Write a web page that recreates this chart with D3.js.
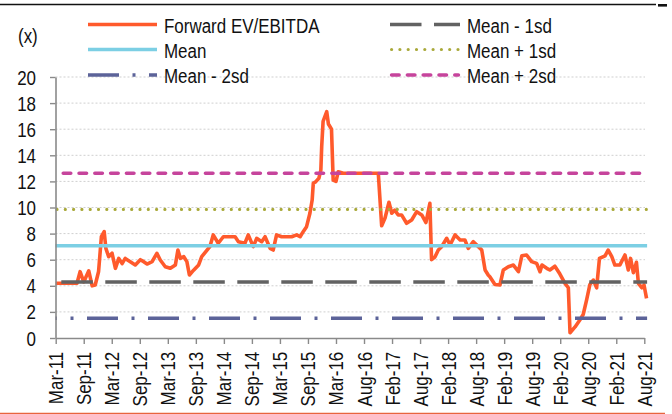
<!DOCTYPE html>
<html>
<head>
<meta charset="utf-8">
<script src="https://cdn.jsdelivr.net/npm/d3@7/dist/d3.min.js"></script>
<style>
  html, body { margin: 0; padding: 0; background: #fff; }
  svg { display: block; }
  text { font-family: "Liberation Sans", Arial, sans-serif; font-size: 19.5px; fill: #111; }
</style>
</head>
<body>
<svg id="chart" width="672" height="414"></svg>
<script>
// Category labels along the time axis (evenly spaced, one every ~6 months)
const tickLabels = ["Mar-11","Sep-11","Mar-12","Sep-12","Mar-13","Sep-13","Mar-14","Sep-14",
  "Mar-15","Sep-15","Mar-16","Aug-16","Feb-17","Aug-17","Feb-18","Aug-18","Feb-19","Aug-19",
  "Feb-20","Aug-20","Feb-21","Aug-21"];

// Forward EV/EBITDA: position on the label axis (0 = first label) and multiple (x)
const evPos = [0, 0.76, 0.87, 1.00, 1.18, 1.30, 1.41, 1.53, 1.63, 1.73, 1.79, 1.89, 2.01, 2.13,
  2.25, 2.37, 2.48, 2.66, 2.84, 3.02, 3.14, 3.26, 3.44, 3.61, 3.73, 3.91, 4.09, 4.27, 4.36, 4.45,
  4.57, 4.68, 4.77, 4.92, 5.10, 5.21, 5.50, 5.62, 5.80, 5.98, 6.40, 6.52, 6.75, 6.87, 7.05, 7.17,
  7.35, 7.47, 7.65, 7.76, 7.88, 8.06, 8.42, 8.60, 8.72, 8.83, 8.95, 9.07, 9.15, 9.19, 9.28, 9.39,
  9.46, 9.49, 9.54, 9.67, 9.73, 9.84, 9.90, 10.00, 10.08, 10.26, 11.51, 11.63, 11.75, 11.89, 11.99,
  12.10, 12.22, 12.34, 12.52, 12.70, 12.88, 13.06, 13.21, 13.35, 13.41, 13.53, 13.65, 13.77, 13.95,
  14.07, 14.25, 14.43, 14.60, 14.72, 14.90, 15.08, 15.20, 15.32, 15.43, 15.49, 15.67, 15.85, 15.97,
  16.15, 16.33, 16.51, 16.63, 16.80, 16.98, 17.16, 17.28, 17.35, 17.52, 17.63, 17.81, 17.99, 18.17,
  18.29, 18.35, 18.53, 18.70, 18.82, 18.94, 19.06, 19.18, 19.30, 19.40, 19.60, 19.71, 19.84, 19.95,
  20.13, 20.31, 20.43, 20.51, 20.61, 20.72, 20.79, 20.91, 20.99, 21.08];
const evValues = [4.19, 4.20, 5.08, 4.30, 5.15, 4.00, 4.06, 5.10, 7.76, 8.15, 6.87, 6.23, 6.50, 5.34,
  6.10, 5.70, 6.10, 5.85, 5.60, 6.00, 5.85, 5.67, 5.85, 6.49, 5.98, 5.46, 5.34, 5.60, 6.74, 6.10,
  6.23, 5.85, 4.83, 5.20, 5.60, 6.23, 7.00, 7.90, 7.26, 7.76, 7.76, 7.38, 7.26, 7.90, 7.00, 7.64,
  7.38, 7.76, 6.87, 6.74, 7.90, 7.76, 7.76, 7.90, 7.76, 8.15, 8.53, 9.56, 10.57, 11.85, 11.98, 12.24,
  12.87, 14.66, 16.60, 17.34, 16.40, 16.00, 12.10, 12.00, 12.74, 12.62, 12.62, 8.60, 9.20, 10.40, 9.56,
  9.80, 9.43, 9.43, 8.79, 9.04, 9.68, 9.43, 8.85, 10.32, 6.00, 6.20, 6.74, 7.00, 7.64,
  7.13, 7.90, 7.51, 7.51, 6.87, 7.38, 7.00, 6.74, 5.21, 4.83, 4.70, 4.10, 4.06, 5.21,
  5.46, 5.59, 5.08, 6.30, 6.36, 5.85, 5.72, 5.08, 5.59, 5.34, 5.21, 5.50, 4.90, 4.19,
  3.85, 0.40, 0.85, 1.38, 1.80, 2.90, 4.10, 4.44, 3.85, 6.10, 6.30, 6.74, 6.23, 5.59,
  5.60, 6.36, 5.21, 6.10, 5.00, 5.80, 4.19, 3.85, 4.06, 3.04];

// Statistical reference levels (x)
const levelNames  = ["Mean", "Mean - 1sd", "Mean + 1sd", "Mean - 2sd", "Mean + 2sd"];
const levelValues = [7.07, 4.29, 9.85, 1.51, 12.63];

// Legend layout: two columns of three entries
const legendCol1 = ["Forward EV/EBITDA", "Mean", "Mean - 2sd"];
const legendCol2 = ["Mean - 1sd", "Mean + 1sd", "Mean + 2sd"];

const yMax = 20, yStep = 2;
const xEnd = 21.1; // right end of the plotted span, in label steps

// Line styles per series
const seriesStyle = {
  "Forward EV/EBITDA": { color: "#FF5A2C", width: 3.6, dash: null, cap: "butt", offset: 0 },
  "Mean":       { color: "#7CCFE4", width: 3.6, dash: null, cap: "butt", offset: 0 },
  "Mean - 1sd": { color: "#626262", width: 3.6, dash: "31.5,12.5", cap: "butt", offset: 38.2 },
  "Mean + 1sd": { color: "#A9A93A", width: 3.2, dash: "0,8.3", cap: "round", offset: 6.8 },
  "Mean - 2sd": { color: "#5C6399", width: 3.6, dash: "31,13.5,3,13.5", cap: "butt", offset: 29.5 },
  "Mean + 2sd": { color: "#C6449C", width: 3.6, dash: "7.5,8.3", cap: "round", offset: 8.05 }
};

const NARROW = 0.87; // horizontal condensing of the label face

const svg = d3.select("#chart");

const x = d3.scaleLinear().domain([0, tickLabels.length - 1]).range([55.7, 644.3]);
const y = d3.scaleLinear().domain([0, yMax]).range([338, 77]);

// frame rules at the top and bottom edges
svg.append("line").attr("x1", 0).attr("x2", 656).attr("y1", 4.5).attr("y2", 4.5)
  .attr("stroke", "#111").attr("stroke-width", 1.3);
svg.append("rect").attr("x", 658).attr("y", 4).attr("width", 9).attr("height", 2.6).attr("fill", "#111");
svg.append("line").attr("x1", 0).attr("x2", 665).attr("y1", 413.5).attr("y2", 413.5)
  .attr("stroke", "#E8643E").attr("stroke-width", 1.5);

// horizontal gridlines
const yTicks = d3.range(0, yMax + 0.001, yStep);
svg.append("g").selectAll("line").data(yTicks.filter(d => d > 0)).join("line")
  .attr("x1", 55.5).attr("x2", 645)
  .attr("y1", d => y(d)).attr("y2", d => y(d))
  .attr("stroke", "#cfcfcf").attr("stroke-width", 1).attr("stroke-dasharray", "2,2");

// Forward EV/EBITDA line
const evPoints = evPos.map((p, i) => [p, evValues[i]]);
const line = d3.line().x(d => x(d[0])).y(d => y(d[1]));
svg.append("path").datum(evPoints)
  .attr("d", line)
  .attr("fill", "none")
  .attr("stroke", seriesStyle["Forward EV/EBITDA"].color)
  .attr("stroke-width", seriesStyle["Forward EV/EBITDA"].width)
  .attr("stroke-linejoin", "round");

// reference levels
function applyStyle(sel, name) {
  const s = seriesStyle[name];
  sel.attr("stroke", s.color).attr("stroke-width", s.width)
    .attr("stroke-linecap", s.cap).attr("fill", "none");
  if (s.dash) sel.attr("stroke-dasharray", s.dash);
  return sel;
}
levelNames.forEach((name, i) => {
  const l = svg.append("line")
    .attr("x1", x(0) - 0.2).attr("x2", x(xEnd))
    .attr("y1", y(levelValues[i])).attr("y2", y(levelValues[i]));
  applyStyle(l, name);
  l.attr("stroke-dashoffset", seriesStyle[name].offset);
});

// axes
const axisColor = "#8a8a8a";
const yAxis = svg.append("g").attr("transform", "translate(55.5,0)")
  .call(d3.axisLeft(y).tickValues(yTicks).tickSize(5.5).tickSizeOuter(0).tickFormat(d3.format("d")));
const xAxis = svg.append("g").attr("transform", "translate(0,338)")
  .call(d3.axisBottom(x).tickValues(d3.range(tickLabels.length)).tickSize(6).tickSizeOuter(0)
    .tickFormat(i => tickLabels[i]));

[yAxis, xAxis].forEach(g => {
  g.select(".domain").attr("stroke", axisColor).attr("stroke-width", 1.6);
  g.selectAll(".tick line").attr("stroke", axisColor).attr("stroke-width", 1.4);
  g.selectAll("text").attr("fill", "#111").attr("font-family", null).attr("font-size", null);
});
yAxis.selectAll(".tick text")
  .attr("x", 0).attr("dy", null).attr("text-anchor", "end")
  .attr("transform", `translate(-19.5,7) scale(${NARROW},1)`);
xAxis.selectAll(".tick text")
  .attr("x", 0).attr("y", 0).attr("dy", null).attr("text-anchor", "end")
  .attr("transform", `translate(7,13.7) rotate(-90) scale(${NARROW},1)`);

// unit label
svg.append("text").attr("transform", `translate(18,43) scale(${NARROW},1)`).text("(x)");

// legend
const legendRowsY = [24.5, 49.5, 75];
function legendEntry(name, x0, x1, tx, ly) {
  const l = svg.append("line").attr("x1", x0).attr("x2", x1).attr("y1", ly).attr("y2", ly);
  applyStyle(l, name);
  svg.append("text").attr("transform", `translate(${tx},${ly + 8}) scale(${NARROW},1)`).text(name);
}
legendCol1.forEach((name, i) => legendEntry(name, 88, 157, 164, legendRowsY[i]));
legendCol2.forEach((name, i) => {
  const capPad = seriesStyle[name].cap === "round" ? 1.6 : 0;
  legendEntry(name, 390 + capPad, 460 - capPad, 467, legendRowsY[i]);
});
</script>
</body>
</html>
